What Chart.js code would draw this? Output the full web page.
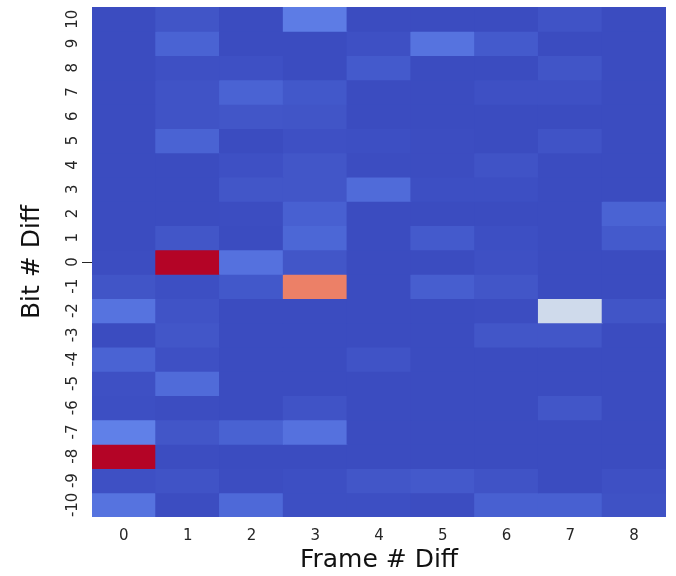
<!DOCTYPE html>
<html>
<head>
<meta charset="utf-8">
<script src="https://cdn.jsdelivr.net/npm/chart.js@4.4.1/dist/chart.umd.min.js"></script>
<style>
  html, body { margin: 0; padding: 0; background: #fff; }
  #wrap { width: 676px; height: 576px; }
</style>
</head>
<body>
<div id="wrap"><canvas id="heat" width="676" height="576"></canvas></div>
<script>
// Frame # Diff (columns) and Bit # Diff (rows, top to bottom)
const frameDiffs = ['0', '1', '2', '3', '4', '5', '6', '7', '8'];
const bitDiffs = [10, 9, 8, 7, 6, 5, 4, 3, 2, 1, 0, -1, -2, -3, -4, -5, -6, -7, -8, -9, -10];

// normalised cell values, one row per bit diff (same order as bitDiffs)
const heat = [
    [0, 0.02, 0, 0.11, 0, 0, 0, 0.016, 0],
    [0, 0.052, 0, 0, 0.01, 0.09, 0.032, 0, 0],
    [0, 0.01, 0.01, 0, 0.032, 0, 0, 0.02, 0],
    [0, 0.016, 0.052, 0.026, 0, 0, 0.01, 0.01, 0],
    [0, 0.016, 0.023, 0.02, 0, 0, 0, 0, 0],
    [0, 0.052, 0, 0.01, 0.007, 0.003, 0, 0.016, 0],
    [0, 0, 0.01, 0.023, 0.003, 0.003, 0.016, 0, 0],
    [0, 0, 0.023, 0.023, 0.07, 0.007, 0.007, 0, 0],
    [0, 0, 0.003, 0.045, 0, 0, 0, 0, 0.052],
    [0, 0.023, 0, 0.06, 0, 0.032, 0.007, 0, 0.032],
    [0.003, 1.0, 0.085, 0.023, 0, 0, 0.01, 0, 0],
    [0.02, 0.007, 0.026, 0.81, 0, 0.04, 0.023, 0, 0],
    [0.09, 0.016, 0, 0, 0, 0, 0.003, 0.45, 0.02],
    [0, 0.023, 0, 0, 0, 0, 0.023, 0.023, 0],
    [0.052, 0.01, 0, 0, 0.016, 0, 0, 0, 0],
    [0.01, 0.07, 0, 0, 0, 0, 0, 0, 0],
    [0.007, 0.003, 0, 0.016, 0, 0, 0, 0.023, 0],
    [0.12, 0.023, 0.05, 0.085, 0, 0, 0, 0, 0],
    [1.0, 0.003, 0, 0, 0, 0, 0, 0, 0],
    [0.01, 0.016, 0.003, 0.007, 0.023, 0.03, 0.016, 0, 0.01],
    [0.09, 0.003, 0.065, 0.007, 0.007, 0.003, 0.045, 0.045, 0.013]
];

// coolwarm colormap, sampled every 1/16
const coolwarmStops = [
    [59, 76, 192], [77, 104, 215], [98, 130, 234], [119, 154, 247],
    [141, 176, 254], [163, 194, 255], [184, 208, 249], [204, 217, 238],
    [221, 221, 221], [236, 211, 192], [245, 196, 167], [247, 177, 143],
    [244, 154, 123], [236, 127, 102], [222, 96, 83], [203, 62, 67],
    [180, 4, 38]
];

function coolwarm(v) {
    const t = Math.max(0, Math.min(1, v)) * (coolwarmStops.length - 1);
    const i = Math.min(Math.floor(t), coolwarmStops.length - 2);
    const f = t - i;
    const a = coolwarmStops[i], b = coolwarmStops[i + 1];
    const c = a.map((x, k) => Math.round(x + (b[k] - x) * f));
    return `rgb(${c[0]}, ${c[1]}, ${c[2]})`;
}

const FONT = "'DejaVu Sans', sans-serif";
const TEXT = '#262626';

// y tick labels are rotated in the original, Chart.js can't rotate them on a vertical axis
const rotatedYTicks = {
    id: 'rotatedYTicks',
    beforeDatasetsDraw(chart) {
        const { ctx, chartArea } = chart;
        ctx.save();
        ctx.fillStyle = coolwarm(0);
        ctx.fillRect(chartArea.left, chartArea.top, chartArea.right - chartArea.left, chartArea.bottom - chartArea.top);
        ctx.restore();
    },
    afterDraw(chart) {
        const { ctx, chartArea } = chart;
        const yScale = chart.scales.y;
        ctx.save();
        ctx.fillStyle = TEXT;
        ctx.font = `15px ${FONT}`;
        ctx.textAlign = 'center';
        ctx.textBaseline = 'middle';
        bitDiffs.forEach((b) => {
            const y = yScale.getPixelForValue(b);
            ctx.save();
            ctx.translate(chartArea.left - 19, y);
            ctx.rotate(-Math.PI / 2);
            ctx.fillText(String(b), 0, 0);
            ctx.restore();
        });
        // the single visible tick mark at 0
        const y0 = Math.round(yScale.getPixelForValue(0)) + 0.5;
        ctx.strokeStyle = TEXT;
        ctx.lineWidth = 1;
        ctx.beginPath();
        ctx.moveTo(chartArea.left - 10, y0);
        ctx.lineTo(chartArea.left, y0);
        ctx.stroke();
        ctx.restore();
    }
};

const datasets = bitDiffs.map((b, i) => ({
    label: String(b),
    data: frameDiffs.map(() => [b - 0.5, b + 0.5]),
    backgroundColor: heat[i].map(coolwarm),
    borderWidth: 0,
    barPercentage: 1,
    categoryPercentage: 1,
    grouped: false,
    inflateAmount: 0.5
}));

new Chart(document.getElementById('heat'), {
    type: 'bar',
    data: { labels: frameDiffs, datasets: datasets },
    options: {
        responsive: false,
        animation: false,
        layout: { padding: { left: 13, right: 10, top: 7, bottom: 1 } },
        plugins: {
            legend: { display: false },
            tooltip: { enabled: false }
        },
        scales: {
            x: {
                grid: { display: false, drawTicks: false },
                border: { display: false },
                ticks: { color: TEXT, font: { family: FONT, size: 15 }, padding: 10 },
                title: {
                    display: true,
                    text: 'Frame # Diff',
                    color: '#111',
                    font: { family: FONT, size: 25 },
                    padding: { top: -10, bottom: 0 }
                }
            },
            y: {
                min: -10.5,
                max: 10.5,
                grid: { display: false, drawTicks: false },
                border: { display: false },
                ticks: { display: false },
                title: {
                    display: true,
                    text: 'Bit # Diff',
                    color: '#111',
                    font: { family: FONT, size: 25 },
                    padding: { top: 4, bottom: 45 }
                }
            }
        }
    },
    plugins: [rotatedYTicks]
});
</script>
</body>
</html>
